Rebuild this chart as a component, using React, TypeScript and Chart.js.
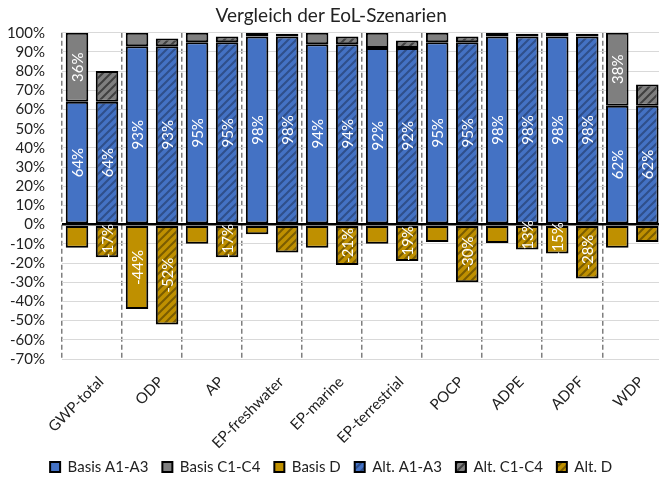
import { useEffect, useRef } from 'react';
import { Chart, registerables } from 'chart.js';

Chart.register(...registerables);

const categories = ['GWP-total', 'ODP', 'AP', 'EP-freshwater', 'EP-marine', 'EP-terrestrial', 'POCP', 'ADPE', 'ADPF', 'WDP'];

const basisA = [64, 93, 95, 98, 94, 92, 95, 98, 98, 62];
const basisC = [36, 7, 5, 2, 6, 8, 5, 2, 2, 38];
const basisD = [-12, -44, -10, -5, -12, -10, -9, -9.5, -15, -12];
const altA = [64, 93, 95, 98, 94, 92, 95, 98, 98, 62];
const altC = [16, 4, 3, 1.5, 4, 4, 3, 1.5, 1.5, 11];
const altD = [-17, -52, -17, -14.5, -21, -19, -30, -13, -28, -9];

const showBasisA = [true, true, true, true, true, true, true, true, true, true];
const showBasisC = [true, false, false, false, false, false, false, false, false, true];
const showBasisD = [false, true, false, false, false, false, false, false, true, false];
const showAltA = [true, true, true, true, true, true, true, true, true, true];
const showAltC = [false, false, false, false, false, false, false, false, false, false];
const showAltD = [true, true, true, false, true, true, true, true, true, false];

const yMin = -70;
const yMax = 100;
const yStep = 10;

const FONT = 'Lato, "Open Sans", sans-serif';

function hatch(base: string, line: string): CanvasPattern | string {
  const t = document.createElement('canvas');
  t.width = 8;
  t.height = 8;
  const c = t.getContext('2d');
  if (!c) return base;
  c.fillStyle = base;
  c.fillRect(0, 0, 8, 8);
  c.strokeStyle = line;
  c.lineWidth = 2;
  c.beginPath();
  c.moveTo(-2, 10); c.lineTo(10, -2);
  c.moveTo(-6, 6); c.lineTo(6, -6);
  c.moveTo(2, 14); c.lineTo(14, 2);
  c.stroke();
  const p = c.createPattern(t, 'repeat');
  return p || base;
}

export default function App() {
  const ref = useRef<HTMLCanvasElement>(null);

  useEffect(() => {
    const canvas = ref.current;
    if (!canvas) return;

    const blue = '#4472C4';
    const gray = '#7F7F7F';
    const gold = '#BF9000';

    const flags = [showBasisA, showBasisC, showBasisD, showAltA, showAltC, showAltD];

    const barLabels = {
      id: 'barLabels',
      afterDatasetsDraw(chart: any) {
        const ctx = chart.ctx;
        chart.data.datasets.forEach((ds: any, di: number) => {
          const meta = chart.getDatasetMeta(di);
          meta.data.forEach((el: any, i: number) => {
            if (!flags[di][i]) return;
            const v = ds.data[i];
            const p = el.getProps(['x', 'y', 'base'], true);
            const cy = (p.y + p.base) / 2;
            ctx.save();
            ctx.translate(p.x, cy);
            ctx.rotate(-Math.PI / 2);
            ctx.fillStyle = '#ffffff';
            ctx.font = '15px ' + FONT;
            ctx.textAlign = 'center';
            ctx.textBaseline = 'middle';
            ctx.fillText(Math.round(v) + '%', 0, 1);
            ctx.restore();
          });
        });
      },
    };

    const layoutTweak = {
      id: 'layoutTweak',
      afterLayout(chart: any) {
        const l = chart.legend;
        if (l) {
          l.top += 5.5;
          l.bottom += 5.5;
        }
        const x = chart.scales && chart.scales.x;
        if (x) {
          x.bottom = chart.height - 24;
        }
      },
    };

    const common = {
      borderColor: '#000000',
      borderWidth: 2,
      borderSkipped: false,
      categoryPercentage: 1.0,
      barPercentage: 0.75,
    };

    const chart = new Chart(canvas, {
      type: 'bar',
      data: {
        labels: categories,
        datasets: [
          { label: 'Basis A1-A3', data: basisA, backgroundColor: blue, stack: 'basis', ...common },
          { label: 'Basis C1-C4', data: basisC, backgroundColor: gray, stack: 'basis', ...common },
          { label: 'Basis D', data: basisD, backgroundColor: gold, stack: 'basis', ...common },
          { label: 'Alt. A1-A3', data: altA, backgroundColor: hatch(blue, '#2F4F8A'), stack: 'alt', ...common },
          { label: 'Alt. C1-C4', data: altC, backgroundColor: hatch(gray, '#404040'), stack: 'alt', ...common },
          { label: 'Alt. D', data: altD, backgroundColor: hatch(gold, '#7A5C00'), stack: 'alt', ...common },
        ] as any,
      },
      options: {
        responsive: false,
        animation: false,
        devicePixelRatio: 1,
        layout: { padding: { left: 0, right: 17.7, top: 0, bottom: 0 } },
        plugins: {
          title: {
            display: true,
            text: 'Vergleich der EoL-Szenarien',
            color: '#222222',
            font: { family: FONT, size: 19, weight: 'normal' },
            padding: { top: 4, bottom: 5.9 },
          },
          legend: {
            position: 'bottom',
            labels: {
              boxWidth: 10,
              boxHeight: 10,
              padding: 14,
              color: '#222222',
              font: { family: FONT, size: 15 },
            },
          },
          tooltip: { enabled: false },
        },
        scales: {
          x: {
            stacked: true,
            grid: {
              display: true,
              drawTicks: false,
              color: '#7F7F7F',
              lineWidth: 1.5,
              offset: true,
            },
            border: { display: false, dash: [5, 3] },
            ticks: {
              autoSkip: false,
              minRotation: 45,
              maxRotation: 45,
              labelOffset: 9,
              padding: 14,
              color: '#222222',
              font: { family: FONT, size: 15 },
            },
            afterFit: (scale: any) => {
              scale.height = 81;
            },
          },
          y: {
            stacked: true,
            min: yMin,
            max: yMax,
            grid: {
              drawTicks: false,
              color: (c: any) => (c.tick && c.tick.value === 0 ? '#000000' : '#D9D9D9'),
              lineWidth: (c: any) => (c.tick && c.tick.value === 0 ? 2.5 : 1),
            },
            border: { display: false },
            ticks: {
              stepSize: yStep,
              autoSkip: false,
              padding: 17,
              color: '#222222',
              font: { family: FONT, size: 15 },
              callback: (v: any) => v + '%',
            },
            afterFit: (scale: any) => {
              scale.width = 62;
            },
          },
        },
      } as any,
      plugins: [barLabels, layoutTweak],
    });

    return () => chart.destroy();
  }, []);

  return (
    <div style={{ position: 'fixed', left: 0, top: 0, width: 659, height: 479, overflow: 'hidden', background: '#ffffff' }}>
      <canvas ref={ref} width={680} height={479} style={{ display: 'block', width: 680, height: 479 }} />
    </div>
  );
}
